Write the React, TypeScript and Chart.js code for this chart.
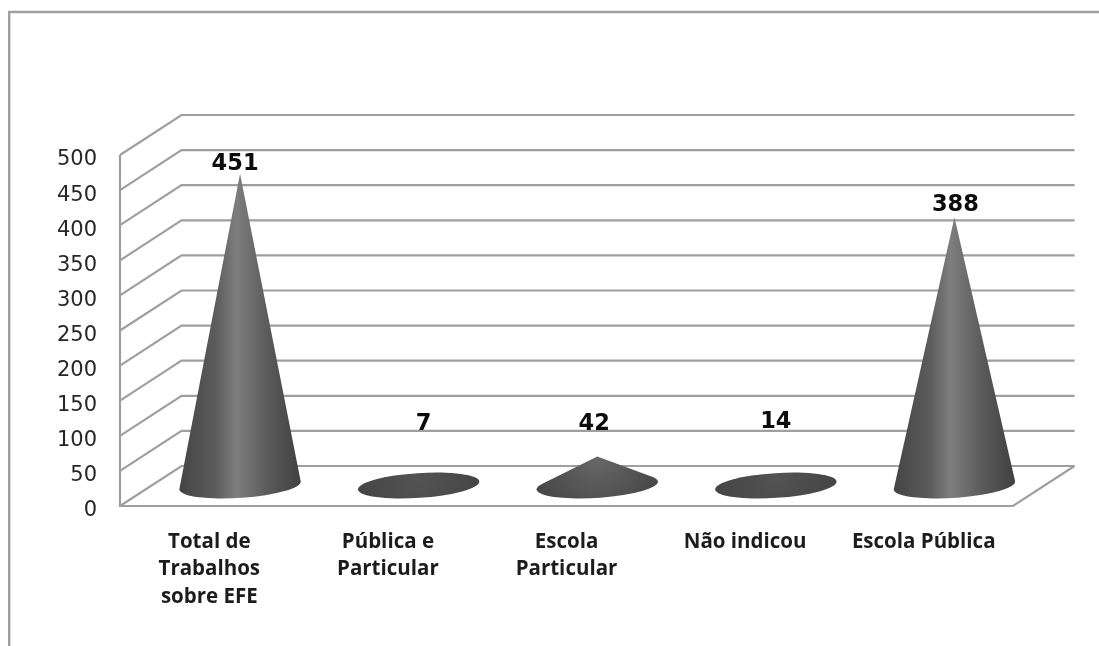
import { useEffect, useRef } from "react";
import { Chart, registerables } from "chart.js";

Chart.register(...registerables);

const categories = [
  ["Total de", "Trabalhos", "sobre EFE"],
  ["Pública e", "Particular"],
  ["Escola", "Particular"],
  "Não indicou",
  "Escola Pública",
];
const values = [451, 7, 42, 14, 388];
const yTicks = [0, 50, 100, 150, 200, 250, 300, 350, 400, 450, 500];

// Small hand placements for the value captions, relative to where they land by default.
const captionNudgeX = [-5, 5, -3, 0, 1];
const captionNudgeY = [0, 0, 0, -2, -3.5];

// Oblique depth of the floor and back wall.
const DEPTH_X = 61.5;
const DEPTH_Y = 40;
// Base ellipse of every cone.
const RADIUS_LONG = 60.8;
const RADIUS_SHORT = 12.4;
const TILT = (-3.8 * Math.PI) / 180;
const WALL = "#9f9f9f";

function drawWalls(chart: Chart) {
  const { ctx, chartArea, scales } = chart;
  const y = scales.y;
  const { left, right, top, bottom } = chartArea;
  ctx.save();
  ctx.strokeStyle = WALL;
  ctx.lineWidth = 2.2;
  ctx.lineJoin = "miter";
  for (const tick of yTicks) {
    const py = y.getPixelForValue(tick);
    ctx.beginPath();
    ctx.moveTo(left, py);
    ctx.lineTo(left + DEPTH_X, py - DEPTH_Y);
    ctx.lineTo(right + DEPTH_X, py - DEPTH_Y);
    ctx.stroke();
  }
  // Front-left upright and the floor's front and right edges.
  ctx.beginPath();
  ctx.moveTo(left, top);
  ctx.lineTo(left, bottom);
  ctx.lineTo(right, bottom);
  ctx.lineTo(right + DEPTH_X, bottom - DEPTH_Y);
  ctx.stroke();
  ctx.restore();
}

function coneFill(ctx: CanvasRenderingContext2D, cx: number, cy: number, height: number) {
  if (height < 100) {
    const g = ctx.createRadialGradient(cx, cy - height, 0, cx, cy - height, RADIUS_LONG * 1.1);
    if (height < 20) {
      g.addColorStop(0, "#535353");
      g.addColorStop(1, "#444444");
    } else {
      g.addColorStop(0, "#686868");
      g.addColorStop(1, "#464646");
    }
    return g;
  }
  const g = ctx.createLinearGradient(cx - RADIUS_LONG, 0, cx + RADIUS_LONG, 0);
  g.addColorStop(0, "#444444");
  g.addColorStop(0.3, "#5c5c5c");
  g.addColorStop(0.47, "#7e7e7e");
  g.addColorStop(0.55, "#727272");
  g.addColorStop(0.75, "#585858");
  g.addColorStop(1, "#404040");
  return g;
}

function drawCone(ctx: CanvasRenderingContext2D, cx: number, cy: number, height: number) {
  // Apex in the ellipse's own rotated frame, for the tangent points of the silhouette.
  const cos = Math.cos(-TILT);
  const sin = Math.sin(-TILT);
  const lx = height * sin;
  const ly = -height * cos;
  const A = lx / RADIUS_LONG;
  const B = ly / RADIUS_SHORT;
  const R = Math.hypot(A, B);

  ctx.save();
  ctx.fillStyle = coneFill(ctx, cx, cy, height);
  ctx.beginPath();
  if (R <= 1) {
    ctx.ellipse(cx, cy, RADIUS_LONG, RADIUS_SHORT, TILT, 0, Math.PI * 2);
  } else {
    const phi = Math.atan2(B, A);
    const delta = Math.acos(1 / R);
    ctx.moveTo(cx, cy - height);
    // Runs the long way round, under the front of the base.
    ctx.ellipse(cx, cy, RADIUS_LONG, RADIUS_SHORT, TILT, phi + delta, phi - delta + Math.PI * 2);
    ctx.closePath();
  }
  ctx.fill();
  ctx.restore();
}

const conePlugin = {
  id: "cones",
  beforeDatasetsDraw(chart: Chart) {
    drawWalls(chart);
  },
  afterDatasetsDraw(chart: Chart) {
    const { ctx, scales } = chart;
    const { x, y } = scales;
    const floor = y.getPixelForValue(0);
    values.forEach((value, i) => {
      const cx = x.getPixelForValue(i) + DEPTH_X / 2;
      const cy = floor - 20.5;
      const height = (floor - y.getPixelForValue(value)) * 0.985;
      drawCone(ctx, cx, cy, height);

      const apex = cy - height;
      ctx.save();
      ctx.font = "bold 22.5px 'DejaVu Sans'";
      ctx.fillStyle = "#0c0c0c";
      ctx.textAlign = "center";
      ctx.textBaseline = "middle";
      ctx.fillText(
        String(value),
        cx + captionNudgeX[i],
        Math.min(apex - 9, 424.5) + captionNudgeY[i],
      );
      ctx.restore();
    });
  },
};

const framePlugin = {
  id: "frame",
  beforeDraw(chart: Chart) {
    const { ctx, width, height } = chart;
    ctx.save();
    ctx.fillStyle = "#ffffff";
    ctx.fillRect(0, 0, width, height);
    ctx.strokeStyle = "#9f9f9f";
    ctx.lineWidth = 2.4;
    ctx.beginPath();
    ctx.moveTo(9.2, height);
    ctx.lineTo(9.2, 12);
    ctx.lineTo(width, 12);
    ctx.stroke();
    ctx.restore();
  },
};

export default function App() {
  const canvasRef = useRef<HTMLCanvasElement>(null);

  useEffect(() => {
    const chart = new Chart(canvasRef.current!, {
      type: "bar",
      data: {
        labels: categories,
        datasets: [{ data: values, backgroundColor: "transparent", borderWidth: 0 }],
      },
      plugins: [framePlugin, conePlugin],
      options: {
        responsive: false,
        animation: false,
        layout: { padding: { left: 0, right: 86, top: 155, bottom: 0 } },
        plugins: { legend: { display: false }, tooltip: { enabled: false } },
        scales: {
          x: {
            grid: { display: false },
            border: { display: false },
            afterFit: (scale: any) => {
              scale.height = 140;
            },
            ticks: {
              maxRotation: 0,
              autoSkip: false,
              padding: 14,
              color: "#1c1c1c",
              font: { family: "'Open Sans'", size: 20.5, weight: "bold", lineHeight: 1.345 },
            },
          },
          y: {
            min: 0,
            max: 500,
            grid: { display: false },
            border: { display: false },
            afterFit: (scale: any) => {
              scale.width = 120;
            },
            afterBuildTicks: (scale: any) => {
              scale.ticks = yTicks.map((value) => ({ value }));
            },
            ticks: {
              padding: 15,
              labelOffset: 5,
              color: "#262626",
              font: { family: "'DejaVu Sans'", size: 21 },
            },
          },
        },
      },
    });
    return () => chart.destroy();
  }, []);

  return (
    <div style={{ position: "absolute", left: 0, top: 0, width: 1099, height: 646 }}>
      <canvas ref={canvasRef} width={1099} height={646} style={{ display: "block" }} />
    </div>
  );
}
